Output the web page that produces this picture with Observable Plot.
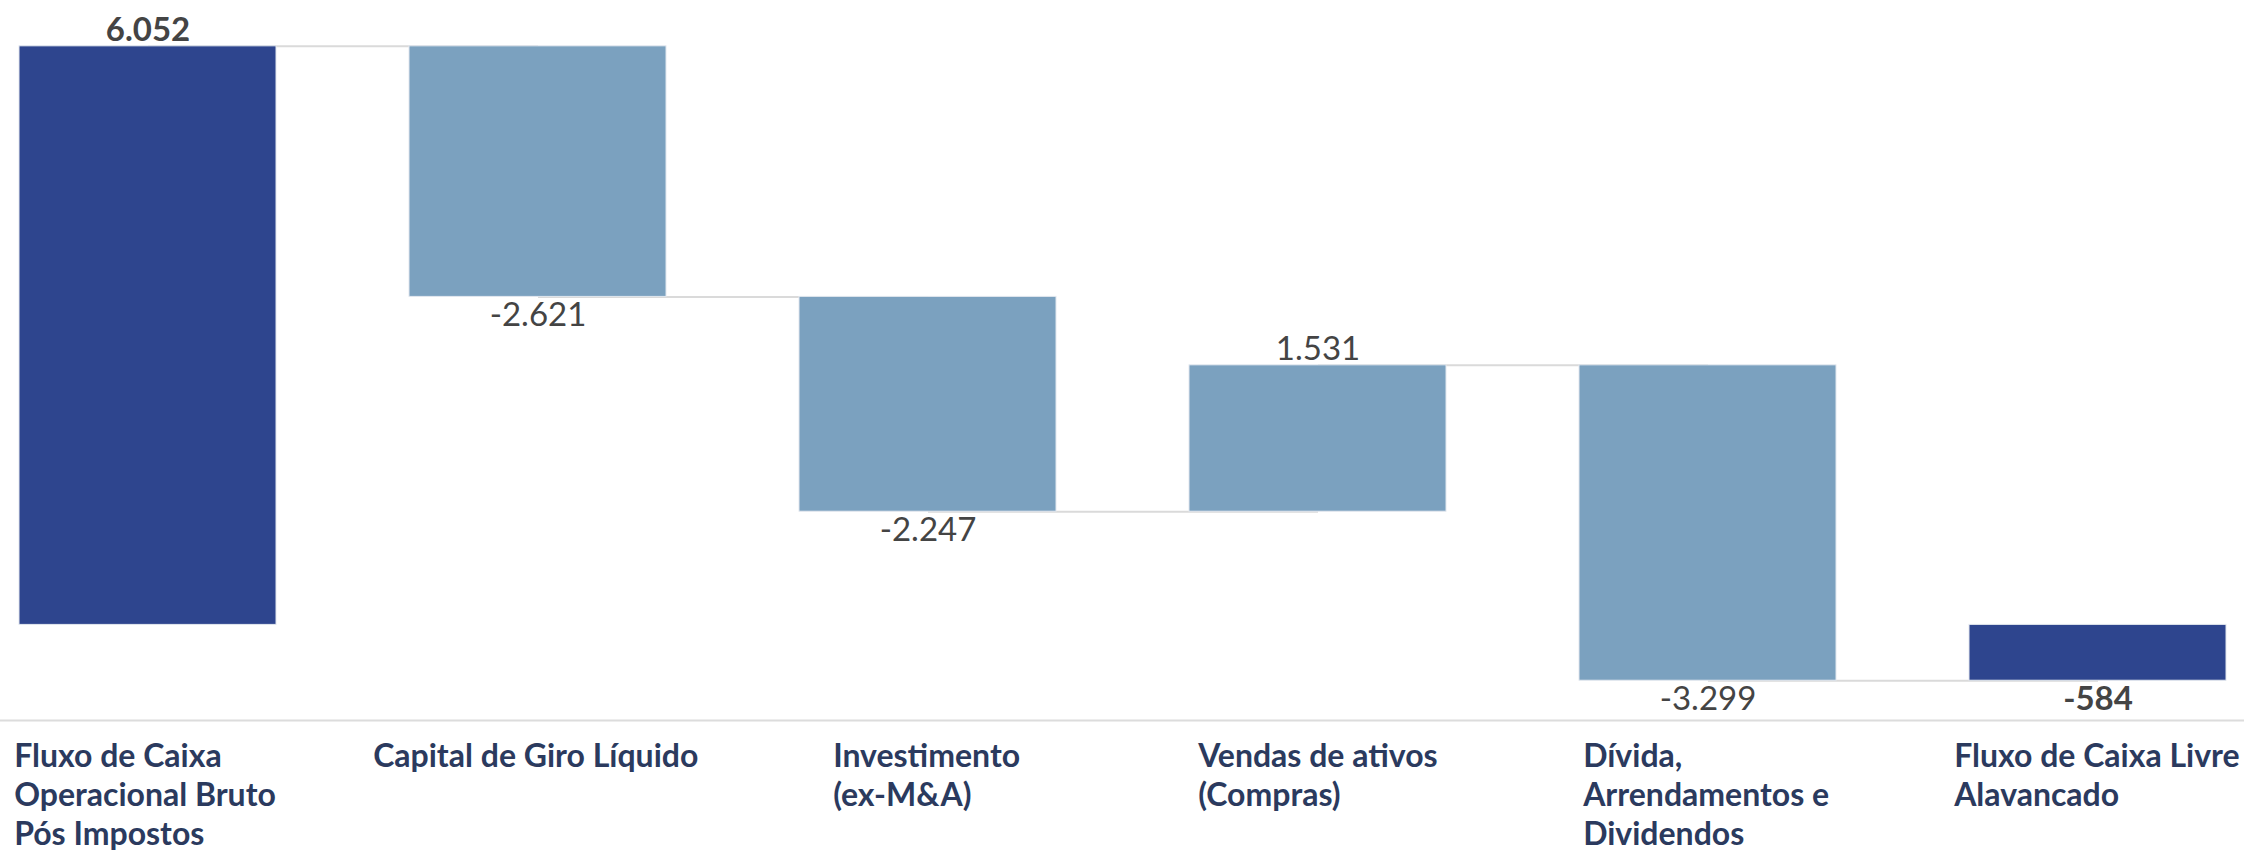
<!DOCTYPE html>
<html>
<head>
<meta charset="utf-8">
<script src="https://cdn.jsdelivr.net/npm/d3@7"></script>
<script src="https://cdn.jsdelivr.net/npm/@observablehq/plot@0.6"></script>
<style>
  html, body { margin: 0; padding: 0; background: #ffffff; overflow: hidden; }
  #chart svg { display: block; font-family: Lato, "Noto Sans", sans-serif; }
</style>
</head>
<body>
<div id="chart"></div>
<script>
const categories = ["c1", "c2", "c3", "c4", "c5", "c6"];
const tickLabels = [
  "Fluxo de Caixa\nOperacional Bruto\nPós Impostos",
  "Capital de Giro Líquido",
  "Investimento\n(ex-M&A)",
  "Vendas de ativos\n(Compras)",
  "Dívida,\nArrendamentos e\nDividendos",
  "Fluxo de Caixa Livre\nAlavancado"
];
const values = [6052, -2621, -2247, 1531, -3299, -584];
const kinds = ["total", "delta", "delta", "delta", "delta", "total"];

const fmt = d3.formatLocale({decimal: ",", thousands: ".", grouping: [3], currency: ["R$", ""], minus: "-"}).format(",d");

let running = 0;
const rows = categories.map((c, i) => {
  let start, end;
  if (kinds[i] === "total") { start = 0; end = values[i]; running = values[i]; }
  else { start = running; end = running + values[i]; running = end; }
  return {cat: c, start, end, value: values[i], kind: kinds[i], label: fmt(values[i])};
});
const links = rows.slice(0, -1).map((r, i) => ({from: r.cat, to: rows[i + 1].cat, level: r.end}));
const labelMap = new Map(categories.map((c, i) => [c, tickLabels[i]]));

const W = 2244, H = 850;
const mL = 18, mR = 16;
const step = (W - mL - mR) / (categories.length - 0.34);
const bw = step * 0.66;
// horizontal nudges of each category label relative to its bar's left edge (layout styling)
const labelNudge = [-5, -36, 34, 9, 4, -15];

const valueStyle = {x: "cat", text: "label", fontSize: 33, fill: "#444444"};
const barTop = d => Math.max(d.start, d.end);
const barBottom = d => Math.min(d.start, d.end);

const chart = Plot.plot({
  width: W,
  height: H,
  marginTop: 3,
  marginBottom: 130,
  marginLeft: mL,
  marginRight: mR,
  style: {fontFamily: "Lato, 'Noto Sans', sans-serif", background: "#ffffff"},
  x: {domain: categories, paddingInner: 0.34, paddingOuter: 0, axis: null},
  y: {domain: [-1000, 6500], axis: null},
  marks: [
    Plot.ruleY([-1000], {stroke: "#dcdcdc", strokeWidth: 2, insetLeft: -mL, insetRight: -mR}),
    Plot.link(links, {x1: "from", x2: "to", y1: "level", y2: "level", stroke: "#dadada", strokeWidth: 2}),
    Plot.barY(rows, {x: "cat", y1: "start", y2: "end",
      fill: d => d.kind === "total" ? "#2e458e" : "#7ba1bf",
      stroke: "#e3e8ef", strokeWidth: 1}),
    Plot.text(rows.filter(d => d.value >= 0 && d.kind === "total"), {...valueStyle, y: barTop, fontWeight: "bold", lineAnchor: "bottom", dy: -5}),
    Plot.text(rows.filter(d => d.value >= 0 && d.kind !== "total"), {...valueStyle, y: barTop, lineAnchor: "bottom", dy: -5}),
    Plot.text(rows.filter(d => d.value < 0 && d.kind === "total"), {...valueStyle, y: barBottom, fontWeight: "bold", lineAnchor: "top", dy: 6}),
    Plot.text(rows.filter(d => d.value < 0 && d.kind !== "total"), {...valueStyle, y: barBottom, lineAnchor: "top", dy: 6}),
    ...categories.map((c, i) => Plot.axisX([c], {anchor: "bottom", tickSize: 0, tickPadding: 19, textAnchor: "start",
      dx: -bw / 2 + labelNudge[i], fontSize: 32, fontWeight: "bold", fill: "#2b3a5e",
      lineHeight: 1.22, tickFormat: c => labelMap.get(c)}))
  ]
});
document.getElementById("chart").append(chart);
</script>
</body>
</html>
